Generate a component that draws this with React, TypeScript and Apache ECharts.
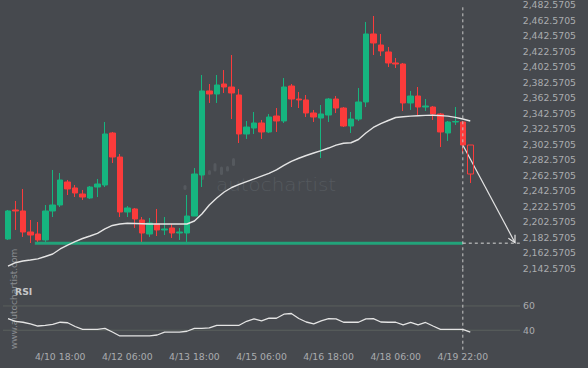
import React, { useEffect, useRef } from "react";
import * as echarts from "echarts";

// ---- data (4h candles) ----
const OPEN = [2180.4, 2217.8, 2216.5, 2189.4, 2186.8, 2179.1, 2216.5, 2224.2, 2253.9, 2246.2, 2238.4, 2233.3, 2247.4, 2250.0, 2317.1, 2286.1, 2215.2, 2219.1, 2204.9, 2186.8, 2199.7, 2192.0, 2194.6, 2188.1, 2188.1, 2210.0, 2262.9, 2371.3, 2367.4, 2380.3, 2376.4, 2366.1, 2315.8, 2323.5, 2330.0, 2318.4, 2339.0, 2332.6, 2377.7, 2360.9, 2359.7, 2342.9, 2336.4, 2340.3, 2360.9, 2349.3, 2326.1, 2335.1, 2357.1, 2444.8, 2430.6, 2421.6, 2407.4, 2406.1, 2355.8, 2364.8, 2350.6, 2350.6, 2341.6, 2317.1, 2331.3, 2331.3, 2301.6];
const CLOSE = [2216.5, 2216.5, 2189.4, 2185.5, 2179.1, 2216.5, 2224.2, 2256.5, 2244.9, 2239.7, 2234.5, 2247.4, 2251.3, 2315.8, 2286.1, 2215.2, 2220.4, 2206.2, 2188.1, 2201.0, 2192.0, 2193.3, 2188.1, 2189.4, 2210.0, 2264.2, 2371.3, 2367.4, 2379.0, 2376.4, 2368.7, 2315.8, 2324.8, 2330.0, 2318.4, 2337.7, 2332.6, 2376.4, 2360.9, 2359.7, 2342.9, 2337.7, 2341.6, 2360.9, 2349.3, 2326.1, 2335.1, 2357.1, 2444.8, 2433.2, 2422.9, 2407.4, 2406.1, 2355.8, 2364.8, 2350.6, 2351.9, 2341.6, 2318.4, 2331.3, 2331.9, 2301.6, 2264.2];
const LOW = [2179.1, 2192.0, 2183.0, 2175.2, 2175.2, 2176.5, 2208.7, 2221.6, 2237.1, 2234.5, 2230.7, 2232.0, 2234.5, 2247.4, 2278.4, 2208.7, 2208.7, 2194.6, 2175.2, 2183.0, 2184.2, 2185.5, 2181.7, 2179.1, 2175.2, 2210.0, 2247.4, 2355.8, 2355.8, 2368.7, 2335.1, 2304.2, 2309.4, 2315.8, 2309.4, 2317.1, 2318.4, 2330.0, 2350.6, 2349.3, 2337.7, 2331.3, 2284.8, 2331.3, 2342.9, 2324.8, 2317.1, 2332.6, 2350.6, 2417.7, 2416.4, 2402.2, 2400.9, 2345.5, 2346.8, 2340.3, 2345.5, 2333.9, 2299.0, 2306.8, 2327.4, 2291.3, 2252.6];
const HIGH = [2217.8, 2229.4, 2244.9, 2204.9, 2202.3, 2224.2, 2269.4, 2265.5, 2256.5, 2250.0, 2243.6, 2248.7, 2257.8, 2331.3, 2318.4, 2290.0, 2222.9, 2220.4, 2208.7, 2207.5, 2219.1, 2208.7, 2199.7, 2194.6, 2237.1, 2271.9, 2391.9, 2380.3, 2391.9, 2398.3, 2417.7, 2373.8, 2332.6, 2344.2, 2333.9, 2341.6, 2349.3, 2388.0, 2380.3, 2370.0, 2366.1, 2346.8, 2353.2, 2362.2, 2364.8, 2350.6, 2344.2, 2375.1, 2460.3, 2468.0, 2444.8, 2428.0, 2413.8, 2407.4, 2371.3, 2376.4, 2360.9, 2351.9, 2342.9, 2332.6, 2350.6, 2332.6, 2301.6];
const MA = [2145.5, 2149.8, 2152.0, 2153.3, 2154.8, 2157.8, 2161.0, 2167.5, 2172.6, 2177.1, 2181.0, 2184.2, 2187.7, 2193.3, 2197.8, 2199.7, 2200.6, 2200.4, 2200.1, 2199.7, 2199.7, 2199.7, 2199.7, 2199.7, 2199.7, 2203.6, 2212.6, 2224.2, 2233.3, 2241.0, 2246.8, 2250.7, 2254.3, 2257.8, 2261.4, 2264.9, 2269.4, 2275.2, 2280.6, 2284.5, 2288.1, 2291.3, 2294.4, 2297.7, 2301.4, 2303.9, 2304.5, 2308.7, 2317.1, 2324.2, 2329.3, 2333.2, 2337.1, 2338.0, 2338.8, 2339.4, 2339.8, 2339.9, 2339.5, 2338.9, 2337.3, 2335.1, 2332.6];
const RSI = [49.5, 47.4, 46.6, 45.2, 43.5, 44.0, 44.8, 46.6, 46.2, 43.1, 40.8, 40.8, 40.8, 41.6, 38.6, 35.3, 35.3, 35.3, 35.3, 35.3, 36.1, 38.4, 38.4, 38.4, 39.2, 41.6, 41.6, 41.9, 44.1, 44.1, 44.1, 44.1, 47.4, 49.3, 47.8, 49.9, 49.9, 53.2, 53.8, 49.7, 46.8, 45.2, 47.7, 49.5, 49.4, 46.6, 46.6, 46.6, 49.3, 49.5, 46.8, 46.6, 46.6, 44.4, 46.4, 44.4, 46.4, 43.5, 40.8, 40.8, 40.8, 40.7, 38.4];
const TIME_LABELS = ["4/10 18:00", "4/12 06:00", "4/13 18:00", "4/15 06:00", "4/16 18:00", "4/18 06:00", "4/19 22:00"];
const TIME_LABEL_INDEX = [7, 16, 25, 34, 43, 52, 61];
const RSI_LEVELS = [60, 40];

const SLOT_COUNT = 69; // candles + room for the forecast
const CURRENT_INDEX = 61;
const SUPPORT_LEVEL = 2175;
const SUPPORT_START = 3.6;
const TARGET_INDEX = 68;
const TARGET_PRICE = 2175.6;
const DASH_END = 68.9;
const Y_MIN = 2142.57;
const Y_MAX = 2482.57;
const Y_STEP = 20;
const TICK_BASE = 2142.5705;
const RSI_MIN = 24;
const RSI_MAX = 91;

const BG = "#46494e";
const GREEN = "#16b47f";
const RED = "#fb3b3b";
const TEXT = "#aaacaf";
const FONT = "DejaVu Sans";
const WHITE = "#e4e4e4";

export default function App() {
  const ref = useRef<HTMLDivElement>(null);

  useEffect(() => {
    if (!ref.current) return;
    const chart = echarts.init(ref.current, null, { renderer: "svg" });
    const categories = Array.from({ length: SLOT_COUNT }, (_, i) => String(i));
    const labelAt = (i: number) => {
      const k = TIME_LABEL_INDEX.indexOf(i);
      return k >= 0 ? TIME_LABELS[k] : "";
    };
    const candles = OPEN.map((o, i) => {
      const v = [o, CLOSE[i], LOW[i], HIGH[i]];
      return i === OPEN.length - 1
        ? {
            value: v,
            itemStyle: {
              color: "rgba(0,0,0,0)",
              color0: "rgba(0,0,0,0)",
              borderColor0: RED,
              borderColor: RED,
            },
          }
        : v;
    });
    const pitch = 7.456;
    const left = 8 - pitch / 2;
    const width = SLOT_COUNT * pitch;
    const rsiLeftIdx = (0 - 8) / pitch;
    const rsiRightIdx = (520 - 8) / pitch;

    const option: any = {
      animation: false,
      backgroundColor: BG,
      textStyle: { fontFamily: FONT },
      grid: [
        { left, top: 4.7, width, height: 263.6 },
        { left, top: 268.3, width, height: 81.4 },
      ],
      xAxis: [
        { type: "category", gridIndex: 0, data: categories, boundaryGap: true, show: false },
        { type: "value", gridIndex: 0, min: -0.5, max: SLOT_COUNT - 0.5, show: false },
        {
          type: "category",
          gridIndex: 1,
          data: categories,
          boundaryGap: true,
          axisLine: { show: false },
          axisTick: { show: false },
          splitLine: { show: false },
          axisLabel: {
            interval: (i: number) => TIME_LABEL_INDEX.includes(i),
            formatter: (_v: string, i: number) => labelAt(i),
            color: TEXT,
            fontSize: 9.3,
            fontFamily: FONT,
            margin: 2,
          },
        },
        { type: "value", gridIndex: 1, min: -0.5, max: SLOT_COUNT - 0.5, show: false },
      ],
      yAxis: [
        {
          type: "value",
          gridIndex: 0,
          position: "right",
          min: Y_MIN,
          max: Y_MAX,
          interval: Y_STEP,
          axisLine: { show: false },
          axisTick: { show: false },
          splitLine: { show: false },
          axisLabel: {
            margin: 4,
            color: TEXT,
            fontSize: 9.3,
            fontFamily: FONT,
            formatter: (v: number) => {
              const t = TICK_BASE + Math.round((v - TICK_BASE) / Y_STEP) * Y_STEP;
              return t.toLocaleString("en-US", { minimumFractionDigits: 4, maximumFractionDigits: 4 });
            },
          },
        },
        { type: "value", gridIndex: 1, min: RSI_MIN, max: RSI_MAX, show: false },
      ],
      graphic: [
        {
          type: "group",
          z: -10,
          silent: true,
          children: [
            ...[
              [183.5, 185, 3, 5],
              [201, 173, 3, 7],
              [208, 170, 3, 5],
              [213.5, 163, 3, 8.5],
              [220, 166.5, 3, 8.5],
              [226, 166, 3, 5.5],
              [232, 158, 3, 8],
            ].map((r) => ({
              type: "rect",
              shape: { x: r[0], y: r[1], width: r[2], height: r[3], r: 1.5 },
              style: { fill: "#55595e" },
            })),
            {
              type: "text",
              x: 216,
              y: 185,
              scaleX: 1.17,
              style: {
                text: "autochartist",
                fontSize: 17,
                fontFamily: FONT,
                fontWeight: 200,
                fill: "#55595e",
                textAlign: "left",
                textVerticalAlign: "middle",
              },
            },
            {
              type: "text",
              x: 14,
              y: 299,
              rotation: Math.PI / 2,
              style: {
                text: "www.autochartist.com",
                fontSize: 9,
                fontFamily: FONT,
                fill: "#8a8d91",
                textAlign: "center",
                textVerticalAlign: "middle",
              },
            },
          ],
        },
        {
          type: "text",
          x: 15,
          y: 291.7,
          z: 100,
          style: {
            text: "RSI",
            fontSize: 9.3,
            fontWeight: "bold",
            fontFamily: FONT,
            fill: "#c4c6c8",
            textVerticalAlign: "middle",
          },
        },
      ],
      series: [
        {
          type: "candlestick",
          xAxisIndex: 0,
          yAxisIndex: 0,
          data: candles,
          barWidth: 6,
          itemStyle: { color: GREEN, color0: RED, borderColor: GREEN, borderColor0: RED, borderWidth: 1 },
        },
        {
          type: "line",
          xAxisIndex: 1,
          yAxisIndex: 0,
          data: [
            [SUPPORT_START, SUPPORT_LEVEL],
            [CURRENT_INDEX, SUPPORT_LEVEL],
          ],
          symbol: "none",
          lineStyle: { color: "#22a37a", width: 3 },
        },
        {
          type: "line",
          xAxisIndex: 1,
          yAxisIndex: 0,
          clip: false,
          data: [
            [CURRENT_INDEX, SUPPORT_LEVEL],
            [DASH_END, SUPPORT_LEVEL],
          ],
          symbol: "none",
          lineStyle: { color: "#d8d8d8", width: 1, type: [3, 3] },
        },
        {
          type: "line",
          xAxisIndex: 1,
          yAxisIndex: 0,
          data: [
            [CURRENT_INDEX, Y_MIN],
            [CURRENT_INDEX, Y_MAX],
          ],
          symbol: "none",
          lineStyle: { color: "#c8c8c8", width: 1, type: [3, 3] },
        },
        {
          type: "line",
          xAxisIndex: 0,
          yAxisIndex: 0,
          data: MA,
          symbol: "none",
          showSymbol: false,
          lineStyle: { color: WHITE, width: 1.4 },
        },
        {
          type: "custom",
          xAxisIndex: 1,
          yAxisIndex: 0,
          dimensions: ["x0", "y0", "x1", "y1"],
          encode: { x: [0, 2], y: [1, 3] },
          data: [[CURRENT_INDEX, CLOSE[CURRENT_INDEX], TARGET_INDEX, TARGET_PRICE]],
          renderItem: (_p: any, api: any) => {
            const a = api.coord([api.value(0), api.value(1)]);
            const b = api.coord([api.value(2), api.value(3)]);
            const ang = Math.atan2(b[1] - a[1], b[0] - a[0]);
            const L = 8;
            const th = 0.49;
            const p1 = [b[0] - L * Math.cos(ang - th), b[1] - L * Math.sin(ang - th)];
            const p2 = [b[0] - L * Math.cos(ang + th), b[1] - L * Math.sin(ang + th)];
            return {
              type: "group",
              children: [
                { type: "line", shape: { x1: a[0], y1: a[1], x2: b[0], y2: b[1] }, style: { stroke: WHITE, lineWidth: 1.2 } },
                { type: "polyline", shape: { points: [p1, b, p2] }, style: { stroke: WHITE, lineWidth: 1.2, fill: null } },
              ],
            };
          },
        },
        ...RSI_LEVELS.map((lvl) => ({
          type: "line",
          xAxisIndex: 3,
          yAxisIndex: 1,
          clip: false,
          data: [
            [rsiLeftIdx, lvl],
            [rsiRightIdx, lvl],
          ],
          symbol: "none",
          lineStyle: { color: "#5b605d", width: 1 },
          endLabel: {
            show: true,
            formatter: () => String(lvl),
            color: TEXT,
            fontSize: 9.3,
            fontFamily: FONT,
            distance: 3,
          },
        })),
        {
          type: "line",
          xAxisIndex: 3,
          yAxisIndex: 1,
          data: [
            [CURRENT_INDEX, RSI_MIN],
            [CURRENT_INDEX, RSI_MAX],
          ],
          symbol: "none",
          lineStyle: { color: "#c8c8c8", width: 1, type: [3, 3] },
        },
        {
          type: "line",
          xAxisIndex: 2,
          yAxisIndex: 1,
          data: RSI,
          symbol: "none",
          showSymbol: false,
          lineStyle: { color: WHITE, width: 1.3 },
        },
      ],
    };
    chart.setOption(option);
    return () => chart.dispose();
  }, []);

  return (
    <div
      ref={ref}
      style={{ position: "fixed", left: 0, top: 0, width: 588, height: 368, background: BG }}
    />
  );
}
